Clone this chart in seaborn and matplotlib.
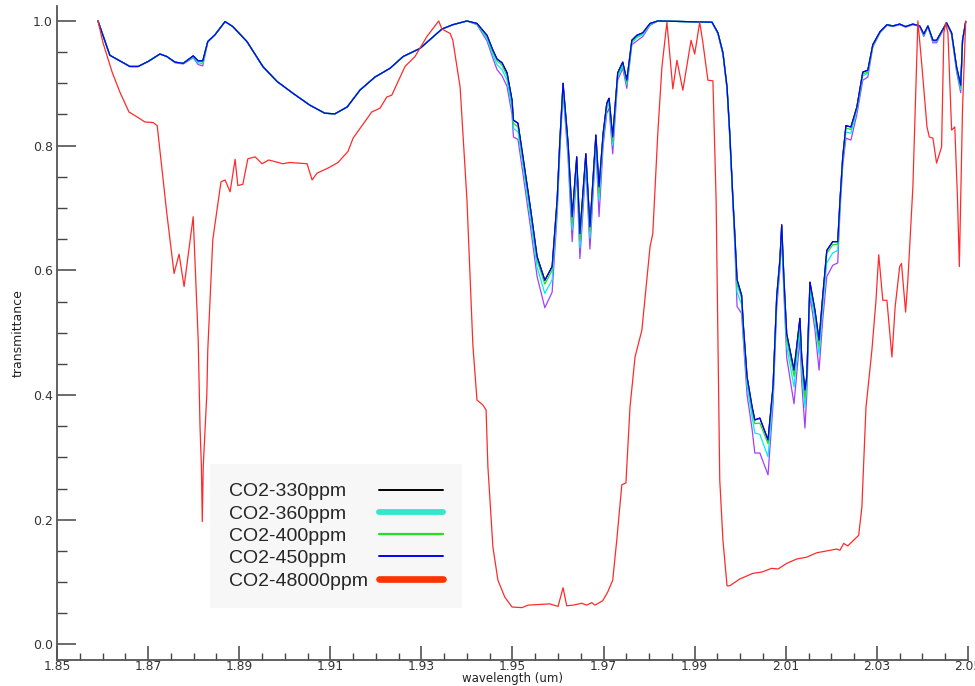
import matplotlib
matplotlib.use("Agg")
import matplotlib.pyplot as plt
from matplotlib.lines import Line2D
import pandas as pd
import seaborn as sns

# ---------------- data ----------------
wl_low = [
    1.8590, 1.8616, 1.8660, 1.8678, 1.8700, 1.8726, 1.8741, 1.8759, 1.8777, 1.8799,
    1.8810, 1.8820, 1.8831, 1.8847, 1.8869, 1.8886, 1.8917, 1.8952, 1.8983, 1.9018,
    1.9055, 1.9088, 1.9110, 1.9137, 1.9165, 1.9198, 1.9231, 1.9260, 1.9297, 1.9345,
    1.9369, 1.9400, 1.9422, 1.9444, 1.9457, 1.9466, 1.9477, 1.9488, 1.9499, 1.9502,
    1.9512, 1.9523, 1.9539, 1.9554, 1.9571, 1.9587, 1.9598, 1.9604, 1.9611, 1.9622,
    1.9631, 1.9641, 1.9648, 1.9661, 1.9670, 1.9683, 1.9690, 1.9699, 1.9707, 1.9712,
    1.9720, 1.9731, 1.9742, 1.9751, 1.9762, 1.9773, 1.9786, 1.9802, 1.9819, 1.9938,
    1.9951, 1.9962, 1.9971, 1.9977, 1.9984, 1.9988, 1.9993, 2.0003, 2.0007, 2.0015,
    2.0026, 2.0032, 2.0043, 2.0061, 2.0072, 2.0080, 2.0087, 2.0091, 2.0096, 2.0102,
    2.0118, 2.0131, 2.0135, 2.0142, 2.0146, 2.0153, 2.0164, 2.0173, 2.0181, 2.0190,
    2.0203, 2.0214, 2.0219, 2.0225, 2.0232, 2.0243, 2.0256, 2.0269, 2.0280, 2.0291,
    2.0307, 2.0322, 2.0335, 2.0350, 2.0363, 2.0379, 2.0394, 2.0403, 2.0412, 2.0423,
    2.0431, 2.0453, 2.0464, 2.0475, 2.0484, 2.0488, 2.0495,
]

t450 = [
    1.000, 0.945, 0.927, 0.927, 0.935, 0.947, 0.943, 0.934, 0.932, 0.944,
    0.936, 0.936, 0.967, 0.978, 0.999, 0.991, 0.967, 0.927, 0.903, 0.884,
    0.865, 0.852, 0.851, 0.862, 0.889, 0.910, 0.924, 0.943, 0.956, 0.987,
    0.994, 1.000, 0.996, 0.977, 0.953, 0.939, 0.933, 0.917, 0.873, 0.841,
    0.836, 0.782, 0.702, 0.622, 0.584, 0.606, 0.713, 0.809, 0.900, 0.804,
    0.686, 0.782, 0.659, 0.787, 0.670, 0.817, 0.734, 0.820, 0.868, 0.876,
    0.814, 0.917, 0.934, 0.905, 0.969, 0.977, 0.981, 0.996, 1.000, 0.998,
    0.981, 0.949, 0.894, 0.820, 0.713, 0.659, 0.585, 0.560, 0.510, 0.429,
    0.381, 0.360, 0.363, 0.328, 0.414, 0.558, 0.617, 0.673, 0.585, 0.498,
    0.440, 0.523, 0.460, 0.408, 0.429, 0.581, 0.536, 0.488, 0.558, 0.632,
    0.646, 0.646, 0.713, 0.782, 0.832, 0.830, 0.862, 0.918, 0.921, 0.962,
    0.983, 0.994, 0.992, 0.995, 0.991, 0.995, 0.992, 0.979, 0.992, 0.969,
    0.969, 0.997, 0.981, 0.926, 0.897, 0.969, 0.999,
]

t400 = [
    1.000, 0.945, 0.927, 0.927, 0.935, 0.947, 0.943, 0.934, 0.932, 0.943,
    0.935, 0.934, 0.967, 0.978, 0.999, 0.991, 0.967, 0.927, 0.903, 0.884,
    0.865, 0.852, 0.851, 0.862, 0.889, 0.910, 0.924, 0.943, 0.956, 0.987,
    0.994, 1.000, 0.995, 0.975, 0.950, 0.936, 0.929, 0.912, 0.868, 0.836,
    0.830, 0.776, 0.696, 0.616, 0.578, 0.600, 0.708, 0.805, 0.896, 0.798,
    0.676, 0.776, 0.648, 0.782, 0.662, 0.813, 0.724, 0.815, 0.864, 0.872,
    0.808, 0.914, 0.931, 0.902, 0.967, 0.975, 0.980, 0.995, 1.000, 0.998,
    0.981, 0.949, 0.893, 0.818, 0.710, 0.655, 0.578, 0.555, 0.505, 0.424,
    0.375, 0.354, 0.355, 0.322, 0.410, 0.555, 0.612, 0.668, 0.580, 0.490,
    0.430, 0.515, 0.452, 0.395, 0.425, 0.577, 0.530, 0.478, 0.552, 0.627,
    0.641, 0.642, 0.710, 0.780, 0.828, 0.826, 0.860, 0.915, 0.918, 0.961,
    0.982, 0.994, 0.992, 0.995, 0.991, 0.995, 0.992, 0.978, 0.992, 0.968,
    0.968, 0.997, 0.980, 0.924, 0.894, 0.968, 0.999,
]

t360 = [
    1.000, 0.945, 0.927, 0.927, 0.935, 0.947, 0.943, 0.934, 0.932, 0.942,
    0.933, 0.931, 0.967, 0.978, 0.999, 0.991, 0.967, 0.927, 0.903, 0.884,
    0.865, 0.852, 0.851, 0.862, 0.889, 0.910, 0.924, 0.943, 0.956, 0.987,
    0.994, 1.000, 0.995, 0.972, 0.945, 0.930, 0.922, 0.905, 0.860, 0.828,
    0.822, 0.768, 0.686, 0.605, 0.563, 0.585, 0.700, 0.800, 0.892, 0.790,
    0.665, 0.770, 0.636, 0.776, 0.652, 0.808, 0.712, 0.810, 0.860, 0.868,
    0.800, 0.910, 0.928, 0.898, 0.965, 0.973, 0.978, 0.994, 1.000, 0.998,
    0.980, 0.948, 0.892, 0.815, 0.708, 0.650, 0.565, 0.545, 0.497, 0.415,
    0.365, 0.339, 0.337, 0.301, 0.400, 0.550, 0.608, 0.664, 0.572, 0.478,
    0.413, 0.505, 0.440, 0.380, 0.415, 0.570, 0.520, 0.465, 0.540, 0.612,
    0.628, 0.632, 0.705, 0.776, 0.822, 0.820, 0.857, 0.912, 0.916, 0.960,
    0.982, 0.994, 0.992, 0.995, 0.991, 0.995, 0.992, 0.977, 0.992, 0.967,
    0.967, 0.997, 0.979, 0.922, 0.890, 0.967, 0.999,
]

# unlabelled (purple) curve visible in the reference
t_purple = [
    1.000, 0.945, 0.927, 0.927, 0.935, 0.947, 0.943, 0.933, 0.931, 0.941,
    0.930, 0.928, 0.966, 0.978, 0.999, 0.991, 0.967, 0.926, 0.903, 0.884,
    0.865, 0.852, 0.851, 0.862, 0.889, 0.910, 0.924, 0.943, 0.956, 0.987,
    0.994, 1.000, 0.994, 0.968, 0.940, 0.922, 0.912, 0.895, 0.850, 0.814,
    0.810, 0.755, 0.672, 0.590, 0.540, 0.565, 0.690, 0.792, 0.885, 0.780,
    0.646, 0.760, 0.619, 0.766, 0.634, 0.800, 0.686, 0.800, 0.852, 0.860,
    0.787, 0.905, 0.924, 0.892, 0.962, 0.968, 0.975, 0.993, 1.000, 0.998,
    0.979, 0.946, 0.890, 0.812, 0.705, 0.640, 0.542, 0.531, 0.485, 0.400,
    0.345, 0.307, 0.307, 0.272, 0.385, 0.540, 0.600, 0.655, 0.560, 0.460,
    0.386, 0.490, 0.420, 0.347, 0.400, 0.560, 0.505, 0.440, 0.520, 0.590,
    0.608, 0.612, 0.695, 0.768, 0.812, 0.809, 0.850, 0.905, 0.910, 0.958,
    0.981, 0.993, 0.991, 0.994, 0.990, 0.994, 0.991, 0.975, 0.991, 0.965,
    0.965, 0.996, 0.978, 0.918, 0.885, 0.966, 0.999,
]

# 330 ppm curve lies beneath the 450 ppm curve in the reference
t330 = list(t450)

wl_high = [
    1.8590, 1.8601, 1.8621, 1.8638, 1.8658, 1.8676, 1.8693, 1.8711, 1.8720, 1.8733,
    1.8741, 1.8757, 1.8768, 1.8779, 1.8799, 1.8810, 1.8814, 1.8817, 1.8819, 1.8821,
    1.8825, 1.8829, 1.8831, 1.8842, 1.8860, 1.8869, 1.8880, 1.8891, 1.8897, 1.8908,
    1.8919, 1.8935, 1.8950, 1.8965, 1.8996, 1.9011, 1.9049, 1.9060, 1.9071, 1.9095,
    1.9117, 1.9139, 1.9150, 1.9191, 1.9209, 1.9224, 1.9235, 1.9264, 1.9286, 1.9312,
    1.9338, 1.9345, 1.9363, 1.9369, 1.9385, 1.9400, 1.9413, 1.9422, 1.9435, 1.9442,
    1.9446, 1.9457, 1.9468, 1.9483, 1.9499, 1.9521, 1.9534, 1.9582, 1.9600, 1.9611,
    1.9619, 1.9633, 1.9652, 1.9663, 1.9674, 1.9681, 1.9698, 1.9709, 1.9720, 1.9729,
    1.9740, 1.9749, 1.9758, 1.9769, 1.9784, 1.9802, 1.9808, 1.9819, 1.9828, 1.9839,
    1.9852, 1.9861, 1.9874, 1.9892, 1.9900, 1.9911, 1.9918, 1.9929, 1.9940, 1.9947,
    1.9951, 1.9955, 1.9962, 1.9971, 1.9977, 1.9999, 2.0028, 2.0047, 2.0069, 2.0083,
    2.0102, 2.0124, 2.0146, 2.0168, 2.0190, 2.0212, 2.0219, 2.0227, 2.0236, 2.0260,
    2.0267, 2.0276, 2.0289, 2.0298, 2.0304, 2.0313, 2.0322, 2.0333, 2.0340, 2.0350,
    2.0354, 2.0363, 2.0368, 2.0379, 2.0390, 2.0399, 2.0410, 2.0415, 2.0423, 2.0431,
    2.0442, 2.0447, 2.0451, 2.0456, 2.0464, 2.0471, 2.0477, 2.0481, 2.0488, 2.0495,
]

t48000 = [
    1.000, 0.965, 0.918, 0.886, 0.854, 0.846, 0.838, 0.837, 0.832, 0.745,
    0.692, 0.595, 0.626, 0.574, 0.686, 0.488, 0.349, 0.285, 0.197, 0.285,
    0.344, 0.403, 0.472, 0.649, 0.742, 0.745, 0.726, 0.778, 0.736, 0.738,
    0.779, 0.782, 0.771, 0.777, 0.771, 0.773, 0.771, 0.745, 0.756, 0.764,
    0.773, 0.791, 0.812, 0.854, 0.860, 0.878, 0.881, 0.927, 0.943, 0.975,
    1.000, 0.987, 0.980, 0.969, 0.894, 0.713, 0.480, 0.392, 0.384, 0.376,
    0.285, 0.156, 0.103, 0.076, 0.060, 0.059, 0.063, 0.065, 0.061, 0.091,
    0.062, 0.063, 0.066, 0.063, 0.067, 0.063, 0.070, 0.084, 0.103, 0.168,
    0.256, 0.259, 0.381, 0.461, 0.504, 0.638, 0.659, 0.820, 0.926, 0.998,
    0.891, 0.937, 0.889, 0.969, 0.947, 0.998, 0.965, 0.905, 0.904, 0.713,
    0.488, 0.264, 0.167, 0.094, 0.094, 0.105, 0.114, 0.116, 0.122, 0.121,
    0.130, 0.137, 0.140, 0.147, 0.150, 0.153, 0.151, 0.162, 0.158, 0.175,
    0.220, 0.380, 0.472, 0.552, 0.625, 0.552, 0.552, 0.461, 0.541, 0.606,
    0.611, 0.533, 0.584, 0.734, 1.000, 0.926, 0.830, 0.814, 0.812, 0.772,
    0.798, 0.981, 0.997, 0.980, 0.825, 0.830, 0.713, 0.606, 0.860, 1.000,
]

legend_labels = ["CO2-330ppm", "CO2-360ppm", "CO2-400ppm", "CO2-450ppm", "CO2-48000ppm"]
x_ticks = [1.85, 1.87, 1.89, 1.91, 1.93, 1.95, 1.97, 1.99, 2.01, 2.03, 2.05]
y_ticks = [0.0, 0.2, 0.4, 0.6, 0.8, 1.0]

# ---------------- plot ----------------
sns.set_style("white")
plt.rcParams["font.family"] = ["DejaVu Sans"]

fig = plt.figure(figsize=(9.75, 6.86), dpi=100)
ax = fig.add_axes([57 / 975, 1 - 660 / 686, 911 / 975, 654 / 686])

series = [
    (t330, wl_low, "#000000"),
    (t_purple, wl_low, "#a040ff"),
    (t360, wl_low, "#00f0f0"),
    (t400, wl_low, "#22e022"),
    (t450, wl_low, "#0000ff"),
    (t48000, wl_high, "#ff2a2a"),
]
for vals, wl, col in series:
    df = pd.DataFrame({"wavelength": wl, "transmittance": vals})
    sns.lineplot(data=df, x="wavelength", y="transmittance", ax=ax, color=col,
                 linewidth=0.9, sort=False, estimator=None, legend=False)

ax.set_xlim(1.85, 2.05)
ax.set_ylim(-0.025, 1.024)

ax.set_xticks(x_ticks)
ax.set_xticklabels([f"{v:.2f}" for v in x_ticks])
ax.set_xticks([1.85 + 0.005 * i for i in range(41)], minor=True)
ax.set_yticks(y_ticks)
ax.set_yticklabels([f"{v:.1f}" for v in y_ticks])
ax.set_yticks([0.05 * i for i in range(21)], minor=True)

tick_col = "#444444"
ax.tick_params(axis="y", which="major", direction="in", length=14, width=1.1,
               color=tick_col, labelsize=9, labelcolor="#333333", pad=3, left=True)
ax.tick_params(axis="y", which="minor", direction="in", length=7, width=1.0,
               color=tick_col, left=True)
ax.tick_params(axis="x", which="major", direction="in", length=10, width=1.1,
               color=tick_col, labelsize=8.8, labelcolor="#333333", pad=0, bottom=True)
ax.tick_params(axis="x", which="minor", direction="in", length=5, width=1.0,
               color=tick_col, bottom=True)

for s in ["top", "right"]:
    ax.spines[s].set_visible(False)
for s in ["left", "bottom"]:
    ax.spines[s].set_color("#555555")
    ax.spines[s].set_linewidth(1.3)

ax.set_xlabel("wavelength (um)", fontsize=8.5, color="#222222")
ax.set_ylabel("transmittance", fontsize=9, color="#222222")
ax.xaxis.set_label_coords(0.5, -0.018)
ax.yaxis.set_label_coords(-0.036, 0.5)

handles = [
    Line2D([], [], color="#000000", linewidth=1.4),
    Line2D([], [], color="#33e6cc", linewidth=4.2),
    Line2D([], [], color="#22e022", linewidth=1.6),
    Line2D([], [], color="#0000ff", linewidth=1.4),
    Line2D([], [], color="#ff3300", linewidth=4.8),
]
leg = ax.legend(handles, legend_labels, loc="lower left",
                bbox_to_anchor=(0.168, 0.0795), borderaxespad=0,
                markerfirst=False, handlelength=3.3,
                handletextpad=0.6, labelspacing=0.24, borderpad=0.95,
                frameon=True, fancybox=False, framealpha=1,
                prop={"family": "Liberation Sans", "size": 14})
leg.get_frame().set_facecolor("#f7f7f7")
leg.get_frame().set_edgecolor("none")

# left-align the labels while keeping handles in one column
fig.canvas.draw()
r = fig.canvas.get_renderer()
widths = [t.get_window_extent(r).width for t in leg.get_texts()]
wmax = max(widths)
for col in leg._legend_handle_box.get_children():
    col.align = "left"
    for row, w in zip(col.get_children(), widths):
        row.sep = row.sep + (wmax - w) * 72 / fig.dpi

fig.savefig("out.png", dpi=100, facecolor="white")
